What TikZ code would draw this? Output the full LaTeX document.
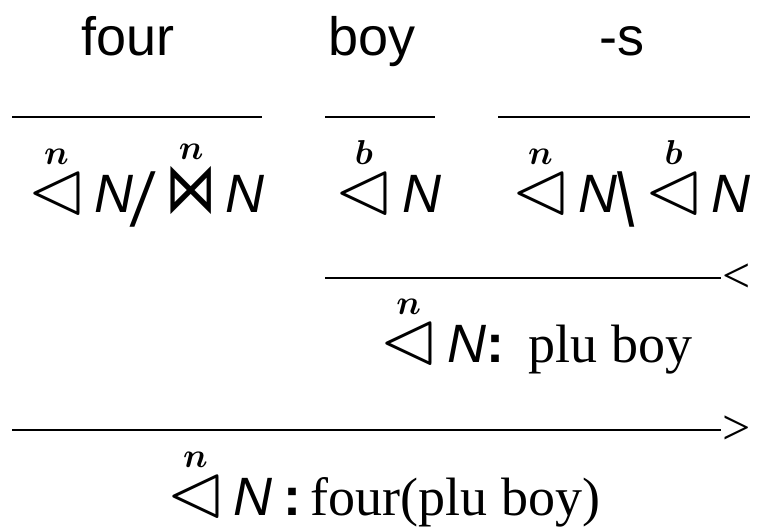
\documentclass[tikz,border=0pt]{standalone}
\usepackage{amsmath,amssymb,graphicx}
\usepackage{fontspec}
\setmainfont{Liberation Serif}
\setsansfont{Liberation Sans}
\newfontfamily\symfont{DejaVu Sans}
\usetikzlibrary{positioning}

\newcommand{\tri}[1]{$\overset{\raisebox{-4pt}{$\scriptstyle\boldsymbol{#1}$}}{\text{\scalebox{1.4}{$\lhd$}}}$}
\newcommand{\bow}[1]{$\overset{\raisebox{-4pt}{$\scriptstyle\boldsymbol{#1}$}}{\text{\scalebox{0.95}[1.3]{\symfont ⋈}}}$}
\newcommand{\slsh}{\raisebox{-7pt}{\scalebox{1.15}[1.4]{\textit{/}}}}
\newcommand{\bslsh}{\raisebox{-7pt}{\scalebox{1.15}[1.4]{\textbackslash}}}

\begin{document}
\begin{tikzpicture}[x=0.5pt, y=-0.5pt, line width=1pt,
  every node/.style={inner sep=0pt, anchor=base, font=\fontsize{27}{32}\selectfont\sffamily},
  rulelab/.style={anchor=west, font=\fontsize{25}{30}\selectfont\rmfamily}]
\useasboundingbox (0,0) rectangle (763,530);
% words
\node (four) at (128,55) {four};
\node (boy) at (372,55) {boy};
\node (plus) at (622,55) {-s};
% lexical rules
\coordinate (lexa1) at (12,117);  \coordinate (lexb1) at (262,117);
\coordinate (lexa2) at (325,117); \coordinate (lexb2) at (435,117);
\coordinate (lexa3) at (498,117); \coordinate (lexb3) at (750,117);
\draw (lexa1) -- (lexb1);
\draw (lexa2) -- (lexb2);
\draw (lexa3) -- (lexb3);
% categories
\node (cfour) at (146,212) {\tri{n}\,\textit{N}\slsh\,\bow{n}\,\textit{N}};
\node (cboy) at (388,212) {\tri{b}\,\textit{N}};
\node (cplus) at (631,212) {\tri{n}\,\textit{N}\bslsh\,\tri{b}\,\textit{N}};
% backward application
\coordinate (bapp) at (325,278);
\node[rulelab] (blab) at (721,278) {<};
\draw (bapp) -- (blab.west);
\node[anchor=base east] (dplu) at (693,362) {\tri{n}\,\textit{N}\textbf{:}\hspace{0.45em}{\rmfamily plu boy}};
% forward application
\coordinate (fapp) at (12,430);
\node[rulelab] (flab) at (721,430) {>};
\draw (fapp) -- (flab.west);
\node[anchor=base west] (dfour) at (165,515) {\tri{n}\,\textit{N}\hspace{0.2em}\textbf{:}\,{\rmfamily four(plu boy)}};
\end{tikzpicture}
\end{document}
